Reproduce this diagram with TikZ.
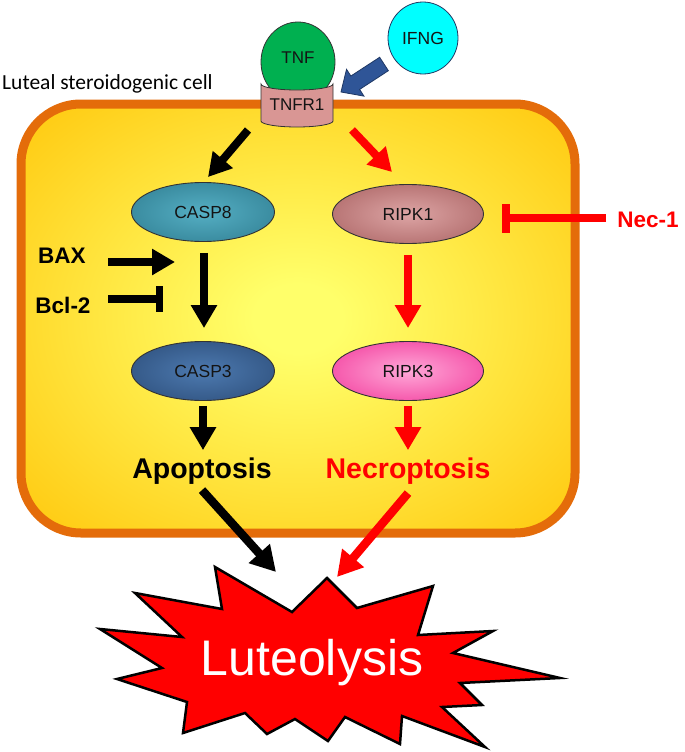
\documentclass[tikz,border=0pt]{standalone}
\usepackage{fontspec}
\setmainfont{Liberation Sans}
\newfontfamily\calibfont{Carlito}
\usetikzlibrary{arrows.meta,shapes.geometric,calc}
\definecolor{cellorange}{HTML}{E46C0A}
\definecolor{cellin}{HTML}{FFFF6A}
\definecolor{cellout}{HTML}{FFC000}
\definecolor{cviiiin}{HTML}{55AFC4}
\definecolor{cviiiout}{HTML}{20697C}
\definecolor{ciiiin}{HTML}{4D7AB0}
\definecolor{ciiiout}{HTML}{1E3A62}
\definecolor{ri in}{HTML}{DDA5A5}
\definecolor{ri out}{HTML}{944646}
\definecolor{riii in}{HTML}{FFA8D8}
\definecolor{riii out}{HTML}{EC0A80}
\definecolor{outl}{HTML}{333333}
\definecolor{txtdark}{HTML}{141414}
\definecolor{tnfgreen}{HTML}{00B050}
\definecolor{ifngcyan}{HTML}{00FFFF}
\definecolor{tnfrpink}{HTML}{D99694}
\definecolor{arrblue}{HTML}{2F5597}
\definecolor{arrblueout}{HTML}{1F3864}
\pgfdeclareradialshading{shCell}{\pgfpoint{0bp}{0bp}}{color(0bp)=(cellin); color(4bp)=(cellin); color(40bp)=(cellout); color(50bp)=(cellout)}
\pgfdeclareradialshading{shCviii}{\pgfpoint{0bp}{0bp}}{color(0bp)=(cviiiin); color(50bp)=(cviiiout)}
\pgfdeclareradialshading{shCiii}{\pgfpoint{0bp}{0bp}}{color(0bp)=(ciiiin); color(50bp)=(ciiiout)}
\pgfdeclareradialshading{shRi}{\pgfpoint{0bp}{0bp}}{color(0bp)=(ri in); color(50bp)=(ri out)}
\pgfdeclareradialshading{shRiii}{\pgfpoint{0bp}{0bp}}{color(0bp)=(riii in); color(50bp)=(riii out)}
\begin{document}
\begin{tikzpicture}[x=1pt,y=-1pt,
  protein/.style={ellipse, draw=outl, line width=0.9pt, inner sep=0pt, minimum height=59pt, font=\fontsize{17.5}{19}\selectfont, text=txtdark},
  fat/.style={line width=7.5pt, -{Triangle[width=25pt,length=23pt]}},
  tbar/.style={line width=7.5pt, -{Bar[width=26pt,line width=7.5pt]}},
  lab/.style={anchor=base, inner sep=0pt, font=\bfseries\fontsize{28.5}{32}\selectfont},
  side/.style={anchor=base, inner sep=0pt, font=\bfseries\fontsize{22.5}{26}\selectfont},
  small/.style={inner sep=0pt, font=\fontsize{17}{19}\selectfont, text=txtdark},
]
\useasboundingbox (0,0) rectangle (685,752);
% cell
\draw[line width=9pt, draw=cellorange, rounded corners=60pt, shading=shCell] (21,104) rectangle (575,533);
\node[anchor=base west, inner sep=0pt, font=\calibfont\fontsize{21.5}{25}\selectfont] (celllabel) at (2,89) {Luteal steroidogenic cell};
% TNF and receptor
\node[ellipse, draw=outl, line width=0.8pt, fill=tnfgreen, minimum width=74pt, minimum height=80pt, inner sep=0pt] (tnf) at (298,62) {};
\draw[draw=outl, line width=0.8pt, fill=tnfrpink] (261,84) -- (261,121) arc[start angle=180, end angle=360, x radius=36pt, y radius=6pt] -- (333,84) arc[start angle=0, end angle=-180, x radius=36pt, y radius=6pt] -- cycle;
\node[small] (tnflabel) at (298,58) {TNF};
\node[small] (tnfr1) at (297,105) {TNFR1};
% IFNG
\node[ellipse, draw=arrblueout, line width=0.8pt, fill=ifngcyan, minimum width=70pt, minimum height=72pt, inner sep=0pt, font=\fontsize{17.5}{19}\selectfont, text=txtdark] (ifng) at (423,38) {IFNG};
\coordinate (ifngTail) at (384,64);
\coordinate (ifngTip) at (341,92);
\coordinate (bh) at ($(ifngTip)!17pt!(ifngTail)$);
\coordinate (h1) at ($(bh)!16pt!90:(ifngTail)$);
\coordinate (h2) at ($(bh)!16pt!-90:(ifngTail)$);
\coordinate (s1) at ($(bh)!8pt!90:(ifngTail)$);
\coordinate (s2) at ($(bh)!8pt!-90:(ifngTail)$);
\coordinate (t1) at ($(ifngTail)!8pt!-90:(ifngTip)$);
\coordinate (t2) at ($(ifngTail)!8pt!90:(ifngTip)$);
\draw[fill=arrblue, draw=arrblueout, line width=0.8pt, line join=miter] (ifngTip) -- (h1) -- (s1) -- (t1) -- (t2) -- (s2) -- (h2) -- cycle;
% proteins
\node[protein, minimum width=143pt, shading=shCviii] (casp8) at (203,212) {CASP8};
\node[protein, minimum width=151pt, shading=shRi] (ripk1) at (408,214) {RIPK1};
\node[protein, minimum width=143pt, shading=shCiii] (casp3) at (203,371) {CASP3};
\node[protein, minimum width=151pt, shading=shRiii] (ripk3) at (408,371) {RIPK3};
% outcome labels
\node[lab] (apop) at (202,478) {Apoptosis};
\node[lab, text=red] (necro) at (408,478) {Necroptosis};
\node[side] (bax) at (62,263) {BAX};
\node[side] (bcl) at (63,313) {Bcl-2};
\node[side, text=red] (nec1) at (648,227) {Nec-1};
% top arrows
\coordinate (tnfrL) at (248,130);
\coordinate (tnfrR) at (352,130);
\draw[fat, line width=8pt] (tnfrL) -- ([xshift=5pt,yshift=5pt]casp8.north);
\draw[fat, line width=8pt, red] (tnfrR) -- ([xshift=-16pt,yshift=12pt]ripk1.north);
% vertical arrows
\draw[fat, shorten <=11pt] (casp8) ++(1,0) coordinate (c8x) (c8x |- casp8.south) -- ([yshift=13pt]c8x |- casp3.north);
\draw[fat, red, shorten <=11pt] (ripk1.south) -- ([yshift=13pt]ripk1.south |- ripk3.north);
\draw[fat] ([yshift=-5pt]casp3.south) -- ([yshift=7pt]casp3.south |- apop.north);
\draw[fat, red] ([yshift=-5pt]ripk3.south) -- ([yshift=7pt]ripk3.south |- necro.north);
% BAX / Bcl-2
\coordinate (baxS) at (108,262);
\coordinate (baxE) at (175,262);
\draw[fat] (baxS) -- (baxE);
\coordinate (bclS) at (108,299);
\coordinate (bclE) at (163,299);
\draw[tbar] (bclS) -- (bclE);
% Nec-1 inhibition
\coordinate (necS) at (606,218);
\coordinate (necE) at (502,218);
\draw[red, line width=8pt, -{Bar[width=29pt,line width=8pt]}] (necS) -- (necE);
% starburst
\draw[fill=red, draw=black, line width=2.5pt, line join=miter, miter limit=20]
 (215,567) -- (292,612) -- (327,578) -- (357,608) -- (433,586) -- (418,635) -- (493,631) -- (453,653) -- (560,678) -- (460,683) -- (482,705) -- (442,707) -- (485,747) -- (402,716) -- (400,744) -- (345,717) -- (328,741) -- (295,719) -- (267,734) -- (245,713) -- (183,733) -- (187,702) -- (117,679) -- (162,668) -- (100,629) -- (182,637) -- (135,593) -- (222,609) -- cycle;
\node[anchor=base, inner sep=0pt, text=white, font=\fontsize{50}{56}\selectfont] (luteo) at (312,675) {Luteolysis};
\coordinate (burstA) at (276,572);
\coordinate (burstB) at (337,577);
\draw[fat, line width=8.5pt, -{Triangle[width=27pt,length=25pt]}] ([yshift=-6pt]apop.south) -- (burstA);
\draw[fat, red, line width=8.5pt, -{Triangle[width=27pt,length=25pt]}] ([yshift=-9pt]necro.south) -- (burstB);
\end{tikzpicture}
\end{document}
